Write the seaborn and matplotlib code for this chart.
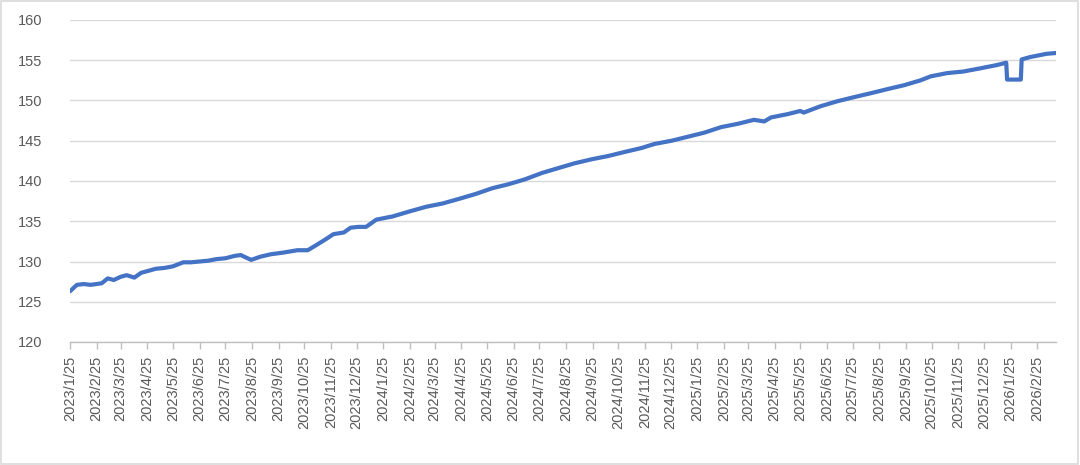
import pandas as pd
import matplotlib.pyplot as plt
import matplotlib.dates as mdates
from matplotlib.ticker import FuncFormatter, MultipleLocator
from matplotlib.patches import Rectangle
import seaborn as sns

dates = [
    "2023-01-25", "2023-01-28", "2023-02-02", "2023-02-10", "2023-02-18", "2023-02-25",
    "2023-03-03", "2023-03-10", "2023-03-17", "2023-03-25", "2023-04-01", "2023-04-10",
    "2023-04-18", "2023-04-25", "2023-05-05", "2023-05-15", "2023-05-25", "2023-06-06",
    "2023-06-15", "2023-06-25", "2023-07-05", "2023-07-15", "2023-07-25", "2023-08-05",
    "2023-08-12", "2023-08-24", "2023-09-04", "2023-09-16", "2023-09-30", "2023-10-17",
    "2023-10-29", "2023-11-09", "2023-11-21", "2023-11-28", "2023-12-10", "2023-12-18",
    "2023-12-27", "2024-01-05", "2024-01-17", "2024-02-05", "2024-02-24", "2024-03-15",
    "2024-04-03", "2024-04-23", "2024-05-12", "2024-05-31", "2024-06-19", "2024-07-08",
    "2024-07-28", "2024-08-16", "2024-09-04", "2024-09-24", "2024-10-13", "2024-11-01",
    "2024-11-21", "2024-12-06", "2024-12-26", "2025-01-14", "2025-02-02", "2025-02-22",
    "2025-03-13", "2025-04-01", "2025-04-13", "2025-04-21", "2025-05-10", "2025-05-25",
    "2025-05-29", "2025-06-18", "2025-07-07", "2025-07-26", "2025-08-15", "2025-09-03",
    "2025-09-23", "2025-10-12", "2025-10-24", "2025-11-12", "2025-12-01", "2025-12-21",
    "2026-01-09", "2026-01-20", "2026-01-21", "2026-02-06", "2026-02-07", "2026-02-17",
    "2026-03-08", "2026-03-19",
]
values = [
    126.3, 126.6, 127.1, 127.2, 127.1, 127.2,
    127.3, 127.9, 127.7, 128.1, 128.3, 128.0,
    128.6, 128.8, 129.1, 129.2, 129.4, 129.9,
    129.9, 130.0, 130.1, 130.3, 130.4, 130.7,
    130.8, 130.2, 130.6, 130.9, 131.1, 131.4,
    131.4, 132.1, 132.9, 133.4, 133.6, 134.2,
    134.3, 134.3, 135.2, 135.6, 136.2, 136.8,
    137.2, 137.8, 138.4, 139.1, 139.6, 140.2,
    141.0, 141.6, 142.2, 142.7, 143.1, 143.6,
    144.1, 144.6, 145.0, 145.5, 146.0, 146.7,
    147.1, 147.6, 147.4, 147.9, 148.3, 148.7,
    148.5, 149.3, 149.9, 150.4, 150.9, 151.4,
    151.9, 152.5, 153.0, 153.4, 153.6, 154.0,
    154.4, 154.7, 152.6, 152.6, 155.1, 155.4,
    155.8, 155.9,
]

df = pd.DataFrame({"date": pd.to_datetime(dates), "value": values})

sns.set_theme(style="white")
plt.rcParams['font.family'] = ['Liberation Sans', 'DejaVu Sans']

fig = plt.figure(figsize=(10.8, 4.65), dpi=100)
ax = fig.add_axes([70 / 1080, 1 - 342 / 465, 986 / 1080, 322 / 465])

sns.lineplot(data=df, x="date", y="value", ax=ax, color="#4472C4", linewidth=3.0)

ax.set_ylim(120, 160)
ax.yaxis.set_major_locator(MultipleLocator(5))
ax.set_xlim(pd.Timestamp("2023-01-25"), pd.Timestamp("2026-03-19"))
ax.xaxis.set_major_locator(mdates.MonthLocator(bymonthday=25))
ax.xaxis.set_major_formatter(FuncFormatter(
    lambda v, p: (lambda d: f"{d.year}/{d.month}/{d.day}")(mdates.num2date(v))))

ax.grid(axis="y", color="#d9d9d9", linewidth=1)
ax.set_axisbelow(True)
for s in ["top", "right", "left"]:
    ax.spines[s].set_visible(False)
ax.spines["bottom"].set_color("#bfbfbf")
ax.spines["bottom"].set_linewidth(1)

ax.tick_params(axis="x", bottom=True, length=5, width=1, color="#bfbfbf",
               labelrotation=90, labelsize=10.5, labelcolor="#595959", pad=5)
ax.tick_params(axis="y", left=False, labelsize=10.5, labelcolor="#595959", pad=14)
ax.set_xlabel("")
ax.set_ylabel("")

fig.patches.append(Rectangle((0.001, 0.002), 0.997, 0.995, transform=fig.transFigure,
                             fill=False, edgecolor="#d9d9d9", linewidth=1.2))

fig.savefig("out.png", dpi=100)
plt.close(fig)
